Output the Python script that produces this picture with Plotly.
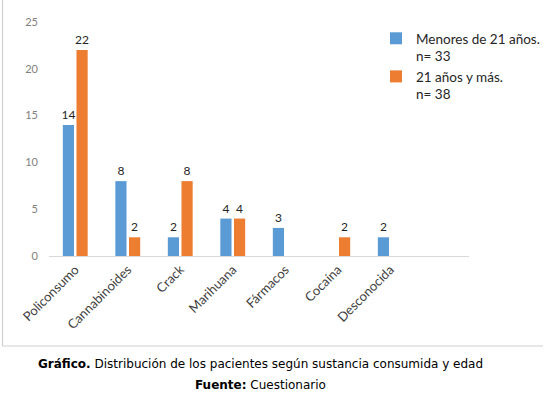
import plotly.graph_objects as go

categories = ["Policonsumo", "Cannabinoides", "Crack", "Marihuana", "Fármacos", "Cocaína", "Desconocida"]
menores = [14, 8, 2, 4, 3, None, 2]
mayores = [22, 2, 8, 4, None, 2, None]
series_names = ["Menores de 21 años.<br>n= 33", "21 años y más.<br>n= 38"]
y_ticks = [0, 5, 10, 15, 20, 25]
caption = "<b>Gráfico.</b> Distribución de los pacientes según sustancia consumida y edad"
source = "<b>Fuente:</b> Cuestionario"

blue = "#5B9BD5"
orange = "#ED7D31"

W, H = 549, 399


def px(x):
    return x / W


def py(y):
    return (H - y) / H


fig = go.Figure()
for vals, col in [(menores, blue), (mayores, orange)]:
    fig.add_trace(go.Bar(
        x=categories, y=vals, marker=dict(color=col, line=dict(width=0)),
        text=vals, texttemplate="%{y}", textposition="outside",
        constraintext="none",
        textfont=dict(family="Lato", size=12, color="#262626"),
        cliponaxis=False, showlegend=False, hoverinfo="skip"))

# legend entries with small square markers
for name, col in zip(series_names, [blue, orange]):
    fig.add_trace(go.Scatter(
        x=[None], y=[None], mode="markers", name=name,
        marker=dict(symbol="square", size=7, color=col)))

fig.update_layout(
    width=W, height=H,
    margin=dict(l=0, r=0, t=0, b=0, pad=0, autoexpand=False),
    paper_bgcolor="white", plot_bgcolor="white",
    barmode="group", bargap=0.48, bargroupgap=0.18,
    font=dict(family="Lato", color="#595959"),
    legend=dict(x=px(376), y=py(23), xanchor="left", yanchor="top",
                font=dict(family="Lato", size=13.5, color="#262626"),
                valign="top", itemsizing="constant", tracegroupgap=0,
                itemwidth=30, bgcolor="rgba(0,0,0,0)"),
    xaxis=dict(type="category", range=[-0.5, 7.5], tickangle=-45,
               domain=[px(49), px(469)],
               showline=True, linecolor="#d9d9d9", linewidth=1,
               ticks="", showgrid=False, automargin=False,
               tickfont=dict(family="Lato", size=13, color="#404040")),
    yaxis=dict(range=[0, 25], tickvals=y_ticks, showgrid=False,
               domain=[py(256), py(22)],
               zeroline=False, showline=False, ticks="", automargin=False,
               ticklabelstandoff=10,
               tickfont=dict(family="Lato", size=11, color="#7f7f7f")),
    shapes=[
        dict(type="line", xref="paper", yref="paper",
             x0=px(2.5), x1=px(2.5), y0=py(0), y1=py(346),
             line=dict(color="#d0d0d0", width=1.2)),
        dict(type="line", xref="paper", yref="paper",
             x0=px(2.5), x1=px(543), y0=py(346), y1=py(346),
             line=dict(color="#d0d0d0", width=1.2)),
    ],
    annotations=[
        dict(text=caption, xref="paper", yref="paper", x=px(260), y=py(364),
             showarrow=False, xanchor="center", yanchor="middle",
             font=dict(family="DejaVu Sans", size=12, color="#000000")),
        dict(text=source, xref="paper", yref="paper", x=px(260), y=py(385),
             showarrow=False, xanchor="center", yanchor="middle",
             font=dict(family="DejaVu Sans", size=12, color="#000000")),
    ],
)

fig.write_html("out.html", config={"displayModeBar": False},
               post_script="document.body.style.margin='0';")
